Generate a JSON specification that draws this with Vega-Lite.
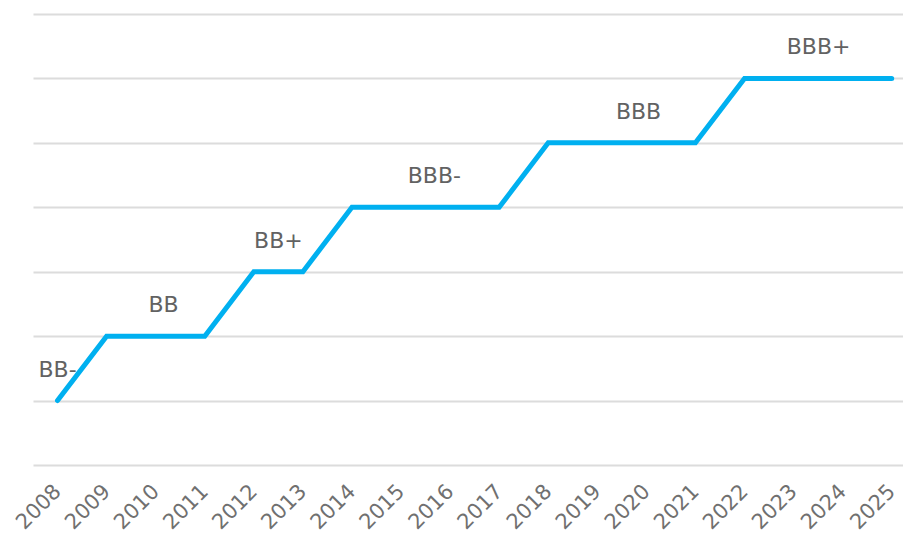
{
  "$schema": "https://vega.github.io/schema/vega-lite/v6.json",
  "width": 870,
  "height": 451,
  "padding": {"left": 33, "top": 14, "right": 0, "bottom": 72},
  "autosize": {"type": "none"},
  "background": "white",
  "config": {"view": {"stroke": null}, "font": "DejaVu Sans"},
  "datasets": {
    "ratings": [
      {"year": 2008, "level": 1}, {"year": 2009, "level": 2}, {"year": 2010, "level": 2},
      {"year": 2011, "level": 2}, {"year": 2012, "level": 3}, {"year": 2013, "level": 3},
      {"year": 2014, "level": 4}, {"year": 2015, "level": 4}, {"year": 2016, "level": 4},
      {"year": 2017, "level": 4}, {"year": 2018, "level": 5}, {"year": 2019, "level": 5},
      {"year": 2020, "level": 5}, {"year": 2021, "level": 5}, {"year": 2022, "level": 6},
      {"year": 2023, "level": 6}, {"year": 2024, "level": 6}, {"year": 2025, "level": 6}
    ],
    "labels": [
      {"year": 2008, "level": 1, "label": "BB-"},
      {"year": 2010.16, "level": 2, "label": "BB"},
      {"year": 2012.5, "level": 3, "label": "BB+"},
      {"year": 2015.68, "level": 4, "label": "BBB-"},
      {"year": 2019.84, "level": 5, "label": "BBB"},
      {"year": 2023.51, "level": 6, "label": "BBB+"}
    ]
  },
  "layer": [
    {
      "data": {"name": "ratings"},
      "mark": {"type": "line", "color": "#00b0f0", "strokeWidth": 5, "strokeCap": "round", "strokeJoin": "miter", "clip": false},
      "encoding": {
        "x": {
          "field": "year", "type": "quantitative",
          "scale": {"domain": [2007.5, 2025.23], "nice": false, "zero": false},
          "axis": {
            "values": [2008,2009,2010,2011,2012,2013,2014,2015,2016,2017,2018,2019,2020,2021,2022,2023,2024,2025],
            "format": "d", "labelAngle": -45, "labelAlign": "right", "labelBaseline": "middle",
            "labelFont": "DejaVu Sans", "labelFontSize": 21, "labelColor": "#707070", "labelPadding": 23,
            "domain": false, "ticks": false, "grid": false, "title": null, "labelOverlap": false, "labelFlush": false, "labelBound": false
          }
        },
        "y": {
          "field": "level", "type": "quantitative",
          "scale": {"domain": [0, 7], "nice": false},
          "axis": {
            "values": [0,1,2,3,4,5,6,7], "labels": false, "ticks": false, "domain": false, "title": null,
            "grid": true, "gridColor": "#dcdcdc", "gridWidth": 2
          }
        }
      }
    },
    {
      "data": {"name": "labels"},
      "mark": {"type": "text", "font": "DejaVu Sans", "fontSize": 22, "color": "#626262", "dy": -31, "baseline": "middle", "align": "center"},
      "encoding": {
        "x": {"field": "year", "type": "quantitative"},
        "y": {"field": "level", "type": "quantitative"},
        "text": {"field": "label"}
      }
    }
  ]
}
